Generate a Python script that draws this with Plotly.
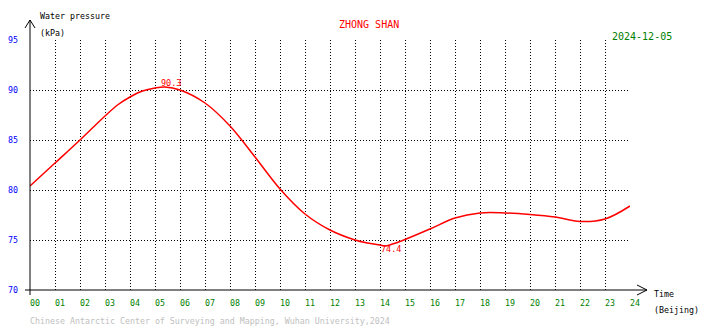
import plotly.graph_objects as go

# Water pressure at Zhong Shan (kPa) against Beijing time, with the daily extremes
hours = [0, 1, 2, 3, 3.5, 4, 4.5, 5, 5.4, 6, 7, 8, 9, 10, 11, 12, 13, 13.5, 14,
         14.2, 14.5, 15, 16, 17, 18, 19, 20, 21, 22, 23, 24]
pressure = [80.4, 82.7, 85.0, 87.4, 88.5, 89.3, 89.9, 90.2, 90.3, 90.0, 88.7,
            86.4, 83.3, 80.1, 77.6, 76.0, 75.0, 74.7, 74.5, 74.4, 74.6, 75.05, 76.1,
            77.2, 77.7, 77.7, 77.55, 77.3, 76.85, 77.1, 78.4]

x_tickvals = list(range(0, 25))
x_ticktext = [f"{h:02d}" for h in x_tickvals]
y_tickvals = [70, 75, 80, 85, 90, 95]

station = "ZHONG SHAN"
date_label = "2024-12-05"
credit = "Chinese Antarctic Center of Surveying and Mapping, Wuhan University,2024"

FONT = "DejaVu Sans Mono"
W, H = 710, 328
L, R, T, B = 30, 80, 40, 38
PW, PH = W - L - R, H - T - B


def px_x(px):
    return (px - L) / PW


def px_y(py):
    return (H - B - py) / PH


fig = go.Figure()
fig.add_trace(go.Scatter(
    x=hours, y=pressure, mode="lines",
    line=dict(color="#ff0000", width=1.5, shape="spline", smoothing=1.0),
    hoverinfo="skip", showlegend=False,
))

# max / min value labels
i_max = pressure.index(max(pressure))
i_min = pressure.index(min(pressure))
for i, ys in ((i_max, 4), (i_min, -3)):
    fig.add_annotation(
        x=hours[i], y=pressure[i], text=f"{pressure[i]:.1f}", showarrow=False,
        xanchor="center", yanchor="middle", xshift=5.5, yshift=ys,
        font=dict(family=FONT, size=8.5, color="#ff0000"),
    )


def label(text, px, py, color, size=8.3, anchor="left"):
    shift = -2 if anchor == "left" else 0
    fig.add_annotation(
        x=px_x(px), y=px_y(py), xref="paper", yref="paper", text=text,
        showarrow=False, xanchor=anchor, yanchor="middle", xshift=shift,
        font=dict(family=FONT, size=size, color=color),
    )


label("Water pressure", 40, 16, "#000000")
label("(kPa)", 40, 33.5, "#000000")
label(station, 369, 24.5, "#ff0000", size=10, anchor="center")
label(date_label, 612, 36.7, "#008000", size=10)
label("Time", 654, 294, "#000000")
label("(Beijing)", 654, 310, "#000000")
label(credit, 30, 320.5, "#c0c0c0")

# axis lines with arrowheads
axis_line = dict(color="#000000", width=1)
shapes = [
    dict(type="line", xref="paper", yref="paper",
         x0=px_x(30), x1=px_x(30), y0=px_y(295), y1=px_y(20), line=axis_line),
    dict(type="line", xref="paper", yref="paper",
         x0=px_x(25), x1=px_x(647), y0=px_y(290), y1=px_y(290), line=axis_line),
    dict(type="path", xref="paper", yref="paper",
         path=f"M {px_x(25)},{px_y(28)} L {px_x(30)},{px_y(20)} L {px_x(35)},{px_y(28)}",
         line=axis_line),
    dict(type="path", xref="paper", yref="paper",
         path=f"M {px_x(637)},{px_y(285)} L {px_x(647)},{px_y(290)} L {px_x(637)},{px_y(295)}",
         line=axis_line),
]

fig.update_layout(
    width=W, height=H,
    margin=dict(l=L, r=R, t=T, b=B, pad=0, autoexpand=False),
    paper_bgcolor="#ffffff", plot_bgcolor="#ffffff",
    shapes=shapes,
    xaxis=dict(
        range=[0, 24], tickvals=x_tickvals, ticktext=x_ticktext,
        showgrid=True, gridcolor="#000000", gridwidth=1, griddash="1px,2px",
        zeroline=False, showline=False, ticks="", automargin=False,
        ticklabelstandoff=7, ticklabelshift=5,
        tickfont=dict(family=FONT, size=8.3, color="#008000"),
    ),
    yaxis=dict(
        range=[70, 95], tickvals=y_tickvals,
        showgrid=True, gridcolor="#000000", gridwidth=1, griddash="1px,2px",
        zeroline=False, showline=False, ticks="", automargin=False,
        ticklabelstandoff=11,
        tickfont=dict(family=FONT, size=8.3, color="#0000ff"),
    ),
)

fig.write_html("out.html")
